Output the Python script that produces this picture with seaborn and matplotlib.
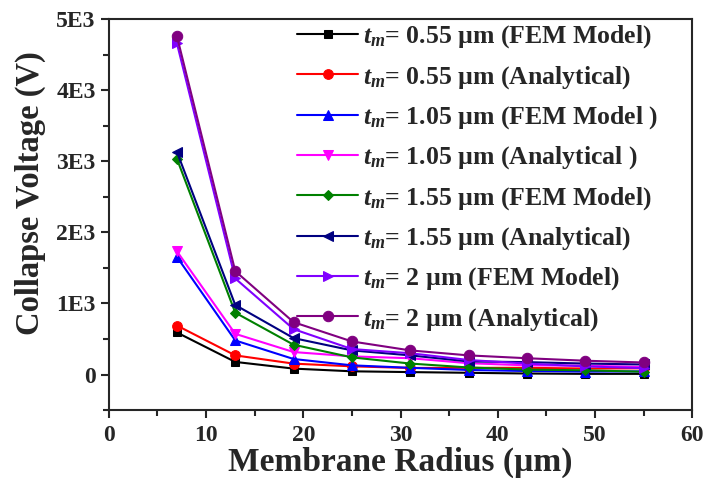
import numpy as np
import pandas as pd
import matplotlib
matplotlib.use('Agg')
import matplotlib.pyplot as plt
import seaborn as sns
from matplotlib.ticker import MultipleLocator, FuncFormatter

# ==================== DONNEES ====================

radius = [7, 13, 19, 25, 31, 37, 43, 49, 55]

v_055_fem = [592, 178, 84, 46, 35, 25, 15, 10, 10]
v_055_ana = [690, 270, 154, 116, 93, 95, 95, 85, 88]
v_105_fem = [1655, 480, 219, 130, 95, 65, 50, 42, 45]
v_105_ana = [1734, 573, 317, 256, 230, 160, 130, 125, 107]
v_155_fem = [3035, 871, 420, 242, 155, 100, 70, 60, 40]
v_155_ana = [3133, 979, 513, 340, 270, 185, 175, 155, 142]
v_2_fem = [4660, 1352, 639, 359, 300, 205, 155, 115, 90]
v_2_ana = [4760, 1455, 737, 466, 340, 270, 230, 195, 170]

labels = [
    r"$t_m$= 0.55 µm (FEM Model)",
    r"$t_m$= 0.55 µm (Analytical)",
    r"$t_m$= 1.05 µm (FEM Model )",
    r"$t_m$= 1.05 µm (Analytical )",
    r"$t_m$= 1.55 µm (FEM Model)",
    r"$t_m$= 1.55 µm (Analytical)",
    r"$t_m$= 2 µm (FEM Model)",
    r"$t_m$= 2 µm (Analytical)",
]
series = [v_055_fem, v_055_ana, v_105_fem, v_105_ana,
          v_155_fem, v_155_ana, v_2_fem, v_2_ana]
colors = ['#000000', '#ff0000', '#0000ff', '#ff00ff',
          '#008000', '#000080', '#8000ff', '#800080']
markers = ['s', 'o', '^', 'v', 'D', '<', '>', 'o']
msizes = [6, 7, 7, 7, 5, 7, 7, 7.5]

# ==================== GRAPHIQUE ====================

sns.set_style("ticks")
plt.rcParams['font.family'] = ['Liberation Serif', 'DejaVu Serif']
plt.rcParams['font.weight'] = 'bold'
plt.rcParams['mathtext.fontset'] = 'custom'
plt.rcParams['mathtext.rm'] = 'Liberation Serif:bold'
plt.rcParams['mathtext.it'] = 'Liberation Serif:italic:bold'
plt.rcParams['mathtext.bf'] = 'Liberation Serif:bold'

fig = plt.figure(figsize=(7.07, 4.78), dpi=100)
ax = fig.add_axes([0.154, 0.142, 0.825, 0.818])

for vals, lab, c, m, ms in zip(series, labels, colors, markers, msizes):
    df = pd.DataFrame({'r': radius, 'v': vals})
    sns.lineplot(data=df, x='r', y='v', ax=ax, color=c, marker=m,
                 markersize=ms, markeredgecolor=c, linewidth=1.5, label=lab)

ax.set_xlim(0, 60)
ax.set_ylim(-500, 5000)
ax.xaxis.set_major_locator(MultipleLocator(10))
ax.xaxis.set_minor_locator(MultipleLocator(5))
ax.yaxis.set_major_locator(MultipleLocator(1000))
ax.yaxis.set_minor_locator(MultipleLocator(500))
ax.yaxis.set_major_formatter(FuncFormatter(
    lambda v, p: '0' if v == 0 else f"{int(v / 1000)}E3"))

ax.tick_params(axis='both', which='major', direction='out', length=6,
               width=1.5, labelsize=17)
ax.tick_params(axis='x', which='major', pad=5)
ax.tick_params(axis='y', which='major', pad=3.5)
ax.tick_params(axis='both', which='minor', direction='out', length=4, width=1.5)
for sp in ax.spines.values():
    sp.set_linewidth(1.5)
    sp.set_visible(True)
for t in ax.get_xticklabels() + ax.get_yticklabels():
    t.set_fontweight('bold')

ax.set_xlabel("Membrane Radius (µm)", fontsize=24, fontweight='bold', labelpad=0)
ax.set_ylabel("Collapse Voltage (V)", fontsize=23.5, fontweight='bold')
ax.yaxis.set_label_coords(-0.108, 0.554)

ax.legend(loc='upper left', bbox_to_anchor=(0.322, 0.989), frameon=False,
          fontsize=18.5, handlelength=2.4, handletextpad=0.2, labelspacing=0.525,
          borderpad=0, borderaxespad=0)

plt.savefig('out.png', dpi=100)
plt.close()
